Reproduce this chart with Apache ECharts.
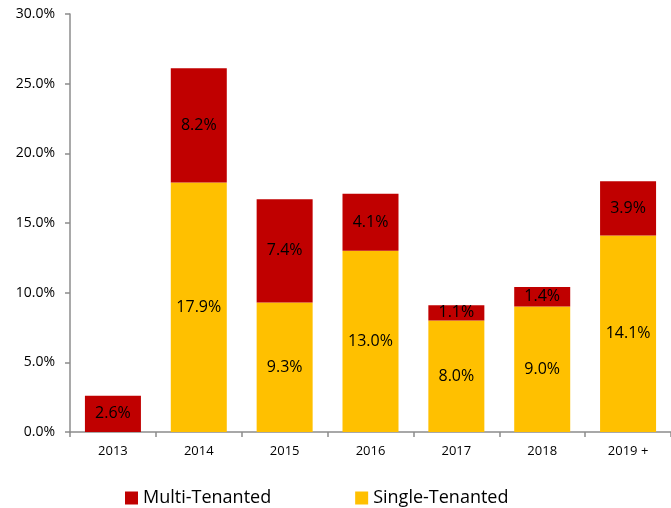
<!DOCTYPE html>
<html>
<head>
<meta charset="utf-8">
<script src="https://cdn.jsdelivr.net/npm/echarts@6/dist/echarts.min.js"></script>
<style>
  html, body { margin: 0; padding: 0; background: #fff; }
  #chart { width: 671px; height: 508px; }
</style>
</head>
<body>
<div id="chart"></div>
<script>
// categories and values
const years = ['2013', '2014', '2015', '2016', '2017', '2018', '2019 +'];
const singleTenanted = [null, 17.9, 9.3, 13.0, 8.0, 9.0, 14.1];
const multiTenanted = [2.6, 8.2, 7.4, 4.1, 1.1, 1.4, 3.9];
const yTicks = [0, 5, 10, 15, 20, 25, 30];

const font = 'Open Sans, Noto Sans, sans-serif';
const axisGray = '#8c8c8c';

var myChart = echarts.init(document.getElementById('chart'));

const labelStyle = {
  show: true,
  position: 'inside',
  color: '#000',
  fontSize: 16,
  fontFamily: font,
  formatter: p => p.value == null ? '' : p.value.toFixed(1) + '%'
};

var option = {
  animation: false,
  grid: { left: 70, top: 14, width: 604, height: 418 },
  legend: {
    data: ['Multi-Tenanted', 'Single-Tenanted'],
    top: 484,
    left: 120,
    itemWidth: 13,
    itemHeight: 13,
    itemGap: 84,
    icon: 'rect',
    textStyle: { fontSize: 18, fontFamily: font, color: '#000' }
  },
  xAxis: {
    type: 'category',
    data: years,
    axisLine: { lineStyle: { color: axisGray, width: 1.5 } },
    axisTick: { show: true, length: 5, lineStyle: { color: axisGray, width: 1.5 } },
    axisLabel: { color: '#000', fontSize: 13, fontFamily: font, margin: 13 }
  },
  yAxis: {
    type: 'value',
    min: yTicks[0],
    max: yTicks[yTicks.length - 1],
    interval: 5,
    splitLine: { show: false },
    axisLine: { show: true, lineStyle: { color: axisGray, width: 1.5 } },
    axisTick: { show: true, length: 5, lineStyle: { color: axisGray, width: 1.5 } },
    axisLabel: { color: '#000', fontSize: 14, fontFamily: font, margin: 15, formatter: v => v.toFixed(1) + '%' }
  },
  series: [
    {
      name: 'Single-Tenanted',
      type: 'bar',
      stack: 'total',
      barWidth: 56,
      data: singleTenanted,
      itemStyle: { color: '#FFC000' },
      label: labelStyle
    },
    {
      name: 'Multi-Tenanted',
      type: 'bar',
      stack: 'total',
      barWidth: 56,
      data: multiTenanted,
      itemStyle: { color: '#C00000' },
      label: labelStyle
    }
  ]
};

myChart.setOption(option);
</script>
</body>
</html>
